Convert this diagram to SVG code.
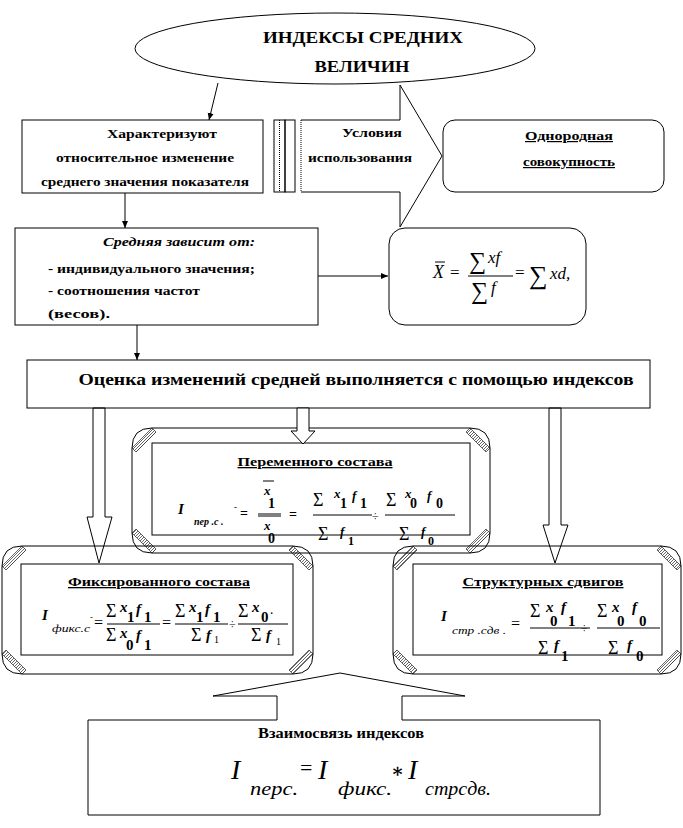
<svg xmlns="http://www.w3.org/2000/svg" width="683" height="828" viewBox="0 0 683 828">
<style>
.t{font-family:"Liberation Serif","DejaVu Serif",serif;font-weight:bold;fill:#000}
.i{font-family:"Liberation Serif","DejaVu Serif",serif;font-style:italic;fill:#000}
.bi{font-family:"Liberation Serif","DejaVu Serif",serif;font-style:italic;font-weight:bold;fill:#000}
.r{font-family:"Liberation Serif","DejaVu Serif",serif;fill:#000}
.u{text-decoration:underline}
.ln{stroke:#000;stroke-width:1;fill:none}
.wf{stroke:#000;stroke-width:1;fill:#fff}
.dot{stroke:#000;stroke-width:1;stroke-dasharray:1 1;fill:none}
.h{fill:url(#hatch);stroke:#000;stroke-width:0.6}
</style>
<defs>
<marker id="ah" markerUnits="userSpaceOnUse" markerWidth="8" markerHeight="8" refX="7" refY="4" orient="auto">
<path d="M0,1 L7,4 L0,7 Z" fill="#000"/>
</marker>
<pattern id="hatch" patternUnits="userSpaceOnUse" width="3" height="3">
<path d="M0,3 L3,0" stroke="#000" stroke-width="0.6"/>
</pattern>
</defs>

<g id="connectors">
<line class="ln" x1="218" y1="83" x2="209" y2="120" marker-end="url(#ah)"/>
<line class="ln" x1="125" y1="193" x2="125" y2="228" marker-end="url(#ah)"/>
<line class="ln" x1="318" y1="276" x2="388" y2="276" marker-end="url(#ah)"/>
<line class="ln" x1="137" y1="325" x2="137" y2="360" marker-end="url(#ah)"/>
<polygon class="wf" points="93,408 105,408 105,517 112,517 99,563 87,517 93,517"/>
<polygon class="wf" points="549,408 561,408 561,525 568,525 555,563 543,525 549,525"/>
</g>

<g id="n-title">
<ellipse class="wf" cx="335" cy="48.5" rx="200" ry="35.5"/>
<text class="t" x="363" y="43" font-size="16" text-anchor="middle" textLength="200" lengthAdjust="spacingAndGlyphs">ИНДЕКСЫ СРЕДНИХ</text>
<text class="t" x="362" y="72" font-size="16" text-anchor="middle" textLength="95" lengthAdjust="spacingAndGlyphs">ВЕЛИЧИН</text>
</g>

<g id="n-conditions">
<path class="wf" d="M301,120 L400,120 L400,85 L442,156 L400,227 L400,192 L301,192"/>
<line class="dot" x1="301" y1="120" x2="301" y2="192"/>
<rect class="ln" x="274" y="120" width="11" height="72"/>
<line class="dot" x1="279.5" y1="120" x2="279.5" y2="192"/>
<rect class="ln" x="285" y="120" width="10" height="72"/>
<text class="t" x="372" y="137" font-size="12" text-anchor="middle" textLength="60" lengthAdjust="spacingAndGlyphs">Условия</text>
<text class="t" x="360" y="162" font-size="12" text-anchor="middle" textLength="104" lengthAdjust="spacingAndGlyphs">использования</text>
</g>

<g id="n-characterize">
<rect class="ln" x="22" y="120" width="241" height="73"/>
<text class="t" x="162" y="138" font-size="12" text-anchor="middle" textLength="110" lengthAdjust="spacingAndGlyphs">Характеризуют</text>
<text class="t" x="145" y="162" font-size="12" text-anchor="middle" textLength="178" lengthAdjust="spacingAndGlyphs">относительное изменение</text>
<text class="t" x="145" y="186" font-size="12" text-anchor="middle" textLength="208" lengthAdjust="spacingAndGlyphs">среднего значения показателя</text>
</g>

<g id="n-homogeneous">
<rect class="ln" x="443" y="120" width="221" height="72" rx="12"/>
<text class="t u" x="569" y="140" font-size="12" text-anchor="middle" textLength="88" lengthAdjust="spacingAndGlyphs">Однородная</text>
<text class="t u" x="569" y="166" font-size="12" text-anchor="middle" textLength="92" lengthAdjust="spacingAndGlyphs">совокупность</text>
</g>

<g id="n-depends">
<rect class="ln" x="15" y="228" width="303" height="97"/>
<text class="bi" x="179" y="246" font-size="12" text-anchor="middle" textLength="152" lengthAdjust="spacingAndGlyphs">Средняя зависит от:</text>
<text class="t" x="48" y="273" font-size="12" textLength="207" lengthAdjust="spacingAndGlyphs">- индивидуального значения;</text>
<text class="t" x="48" y="295" font-size="12" textLength="152" lengthAdjust="spacingAndGlyphs">- соотношения частот</text>
<text class="t" x="48" y="318" font-size="12" textLength="62" lengthAdjust="spacingAndGlyphs">(весов).</text>
</g>

<g id="n-mean-formula">
<rect class="ln" x="389" y="228" width="197" height="97" rx="16"/>
<line class="ln" x1="435" y1="262" x2="445" y2="262"/>
<text class="i" x="433" y="278" font-size="18">X</text>
<text class="r" x="450" y="278" font-size="17">=</text>
<text class="r" x="469" y="269" font-size="24">∑</text>
<text class="i" x="488" y="263" font-size="17">xf</text>
<line class="ln" x1="468" y1="276" x2="513" y2="276"/>
<text class="r" x="471" y="299" font-size="24">∑</text>
<text class="i" x="491" y="293" font-size="17">f</text>
<text class="r" x="515" y="278" font-size="17">=</text>
<text class="r" x="529" y="284" font-size="26">∑</text>
<text class="i" x="550" y="279" font-size="17">xd,</text>
</g>

<g id="n-estimate">
<rect class="ln" x="27" y="360" width="623" height="48"/>
<text class="t" x="356" y="385" font-size="17" text-anchor="middle" textLength="555" lengthAdjust="spacingAndGlyphs">Оценка изменений средней выполняется с помощью индексов</text>
</g>

<g id="n-variable">
<path class="ln" d="M152,428 H470 Q490,428 490,448 V533 Q490,553 470,553 H152 Q132,553 132,533 V448 Q132,428 152,428 Z"/>
<rect class="ln" x="152" y="443" width="318" height="92"/>
<polygon class="h" points="132,448 152,428 156,432 136,452"/>
<polygon class="h" points="470,428 490,448 486,452 466,432"/>
<polygon class="h" points="490,533 470,553 466,549 486,529"/>
<polygon class="h" points="152,553 132,533 136,529 156,549"/>
<text class="t u" x="315" y="466" font-size="13" text-anchor="middle" textLength="155" lengthAdjust="spacingAndGlyphs">Переменного состава</text>
<text class="bi" x="178" y="514" font-size="15">I</text>
<text class="bi" x="194" y="525" font-size="10">пер .с .</text>
<text class="t" x="234" y="510" font-size="9">-</text>
<text class="t" x="240" y="518" font-size="14">=</text>
<line class="ln" x1="263" y1="481" x2="274" y2="481"/>
<text class="bi" x="264" y="495" font-size="13">x</text>
<text class="t" x="268" y="508" font-size="14">1</text>
<line class="ln" x1="258" y1="514" x2="281" y2="514"/>
<line class="ln" x1="258" y1="516" x2="281" y2="516"/>
<text class="bi" x="264" y="530" font-size="13">x</text>
<text class="t" x="268" y="543" font-size="14">0</text>
<text class="t" x="289" y="519" font-size="14">=</text>
<text class="r" x="313" y="506" font-size="18">Σ</text>
<text class="bi" x="334" y="498" font-size="13">x</text>
<text class="t" x="340" y="508" font-size="14">1</text>
<text class="bi" x="352" y="500" font-size="13">f</text>
<text class="t" x="360" y="508" font-size="14">1</text>
<line class="ln" x1="313" y1="515" x2="372" y2="515"/>
<text class="r" x="318" y="540" font-size="18">Σ</text>
<text class="bi" x="340" y="536" font-size="13">f</text>
<text class="t" x="348" y="545" font-size="12">1</text>
<text class="r" x="372" y="520" font-size="12">÷</text>
<text class="r" x="386" y="506" font-size="18">Σ</text>
<text class="bi" x="405" y="498" font-size="13">x</text>
<text class="t" x="410" y="508" font-size="14">0</text>
<text class="bi" x="427" y="500" font-size="13">f</text>
<text class="t" x="436" y="508" font-size="14">0</text>
<line class="ln" x1="385" y1="515" x2="455" y2="515"/>
<text class="r" x="399" y="540" font-size="18">Σ</text>
<text class="bi" x="421" y="536" font-size="13">f</text>
<text class="t" x="428" y="545" font-size="12">0</text>
</g>

<g id="n-fixed">
<path class="ln" d="M22,546 H293 Q313,546 313,566 V654 Q313,674 293,674 H22 Q2,674 2,654 V566 Q2,546 22,546 Z"/>
<rect class="ln" x="21" y="564" width="272" height="91"/>
<polygon class="h" points="2,566 22,546 26,550 6,570"/>
<polygon class="h" points="293,546 313,566 309,570 289,550"/>
<polygon class="h" points="313,654 293,674 289,670 309,650"/>
<polygon class="h" points="22,674 2,654 6,650 26,670"/>
<text class="t u" x="159" y="586" font-size="13" text-anchor="middle" textLength="182" lengthAdjust="spacingAndGlyphs">Фиксированного состава</text>
<text class="bi" x="42" y="620" font-size="15">I</text>
<text class="i" x="52" y="632" font-size="11" textLength="38" lengthAdjust="spacingAndGlyphs">фикс.с</text>
<text class="r" x="90" y="620" font-size="9">-</text>
<text class="r" x="94" y="628" font-size="16">=</text>
<text class="r" x="106" y="617" font-size="18">Σ</text>
<text class="bi" x="120" y="612" font-size="15">x</text>
<text class="t" x="127" y="622" font-size="15">1</text>
<text class="bi" x="136" y="614" font-size="15">f</text>
<text class="t" x="144" y="622" font-size="15">1</text>
<line class="ln" x1="107" y1="624" x2="160" y2="624"/>
<text class="r" x="106" y="641" font-size="18">Σ</text>
<text class="bi" x="120" y="638" font-size="15">x</text>
<text class="t" x="126" y="650" font-size="15">0</text>
<text class="bi" x="136" y="640" font-size="15">f</text>
<text class="t" x="144" y="650" font-size="15">1</text>
<text class="r" x="162" y="628" font-size="16">=</text>
<text class="r" x="175" y="617" font-size="18">Σ</text>
<text class="bi" x="189" y="612" font-size="15">x</text>
<text class="t" x="196" y="622" font-size="15">1</text>
<text class="bi" x="205" y="614" font-size="15">f</text>
<text class="t" x="213" y="622" font-size="15">1</text>
<line class="ln" x1="175" y1="624" x2="228" y2="624"/>
<text class="r" x="191" y="641" font-size="18">Σ</text>
<text class="bi" x="206" y="640" font-size="15">f</text>
<text class="r" x="214" y="643" font-size="10">1</text>
<text class="r" x="229" y="628" font-size="12">÷</text>
<text class="r" x="238" y="617" font-size="18">Σ</text>
<text class="bi" x="252" y="612" font-size="15">x</text>
<text class="t" x="261" y="622" font-size="15">0</text>
<text class="t" x="270" y="617" font-size="10">·</text>
<line class="ln" x1="238" y1="624" x2="288" y2="624"/>
<text class="r" x="251" y="641" font-size="18">Σ</text>
<text class="bi" x="266" y="640" font-size="15">f</text>
<text class="r" x="276" y="645" font-size="10">1</text>
</g>

<g id="n-structural">
<path class="ln" d="M413,546 H661 Q681,546 681,566 V654 Q681,674 661,674 H413 Q393,674 393,654 V566 Q393,546 413,546 Z"/>
<rect class="ln" x="413" y="564" width="249" height="91"/>
<polygon class="h" points="393,566 413,546 417,550 397,570"/>
<polygon class="h" points="661,546 681,566 677,570 657,550"/>
<polygon class="h" points="681,654 661,674 657,670 677,650"/>
<polygon class="h" points="413,674 393,654 397,650 417,670"/>
<text class="t u" x="543" y="586" font-size="13" text-anchor="middle" textLength="161" lengthAdjust="spacingAndGlyphs">Структурных сдвигов</text>
<text class="bi" x="441" y="621" font-size="15">I</text>
<text class="i" x="452" y="634" font-size="11" textLength="54" lengthAdjust="spacingAndGlyphs">стр .сдв .</text>
<text class="r" x="511" y="629" font-size="16">=</text>
<text class="r" x="530" y="617" font-size="18">Σ</text>
<text class="bi" x="546" y="612" font-size="15">x</text>
<text class="t" x="550" y="626" font-size="15">0</text>
<text class="bi" x="561" y="612" font-size="15">f</text>
<text class="t" x="568" y="626" font-size="15">1</text>
<line class="ln" x1="530" y1="628" x2="590" y2="628"/>
<text class="r" x="538" y="654" font-size="18">Σ</text>
<text class="bi" x="554" y="650" font-size="15">f</text>
<text class="t" x="561" y="661" font-size="15">1</text>
<text class="r" x="581" y="632" font-size="12">÷</text>
<text class="r" x="597" y="617" font-size="18">Σ</text>
<text class="bi" x="612" y="612" font-size="15">x</text>
<text class="t" x="617" y="626" font-size="15">0</text>
<text class="bi" x="632" y="612" font-size="15">f</text>
<text class="t" x="639" y="626" font-size="15">0</text>
<line class="ln" x1="597" y1="628" x2="660" y2="628"/>
<text class="r" x="608" y="654" font-size="18">Σ</text>
<text class="bi" x="627" y="650" font-size="15">f</text>
<text class="t" x="636" y="661" font-size="15">0</text>
</g>

<g id="n-middle-arrow">
<polygon class="wf" points="297,408 309,408 309,431 315,431 303,444 291,431 297,431"/>
</g>

<g id="n-relation">
<path class="ln" d="M277,720 L277,696 L213,696 L340,673 L465,696 L402,696 L402,720 L600,720 L600,815 L88,815 L88,720 Z"/>
<text class="t" x="341" y="738" font-size="15" text-anchor="middle" textLength="166" lengthAdjust="spacingAndGlyphs">Взаимосвязь индексов</text>
<text class="i" x="231" y="779" font-size="28">I</text>
<text class="i" x="250" y="795" font-size="18" textLength="48" lengthAdjust="spacingAndGlyphs">перс.</text>
<text class="r" x="300" y="775" font-size="22">=</text>
<text class="i" x="318" y="779" font-size="28">I</text>
<text class="i" x="338" y="795" font-size="18" textLength="54" lengthAdjust="spacingAndGlyphs">фикс.</text>
<text class="t" x="391" y="777" font-size="19">∗</text>
<text class="i" x="408" y="779" font-size="28">I</text>
<text class="i" x="425" y="795" font-size="18" textLength="66" lengthAdjust="spacingAndGlyphs">стрсдв.</text>
</g>
</svg>
